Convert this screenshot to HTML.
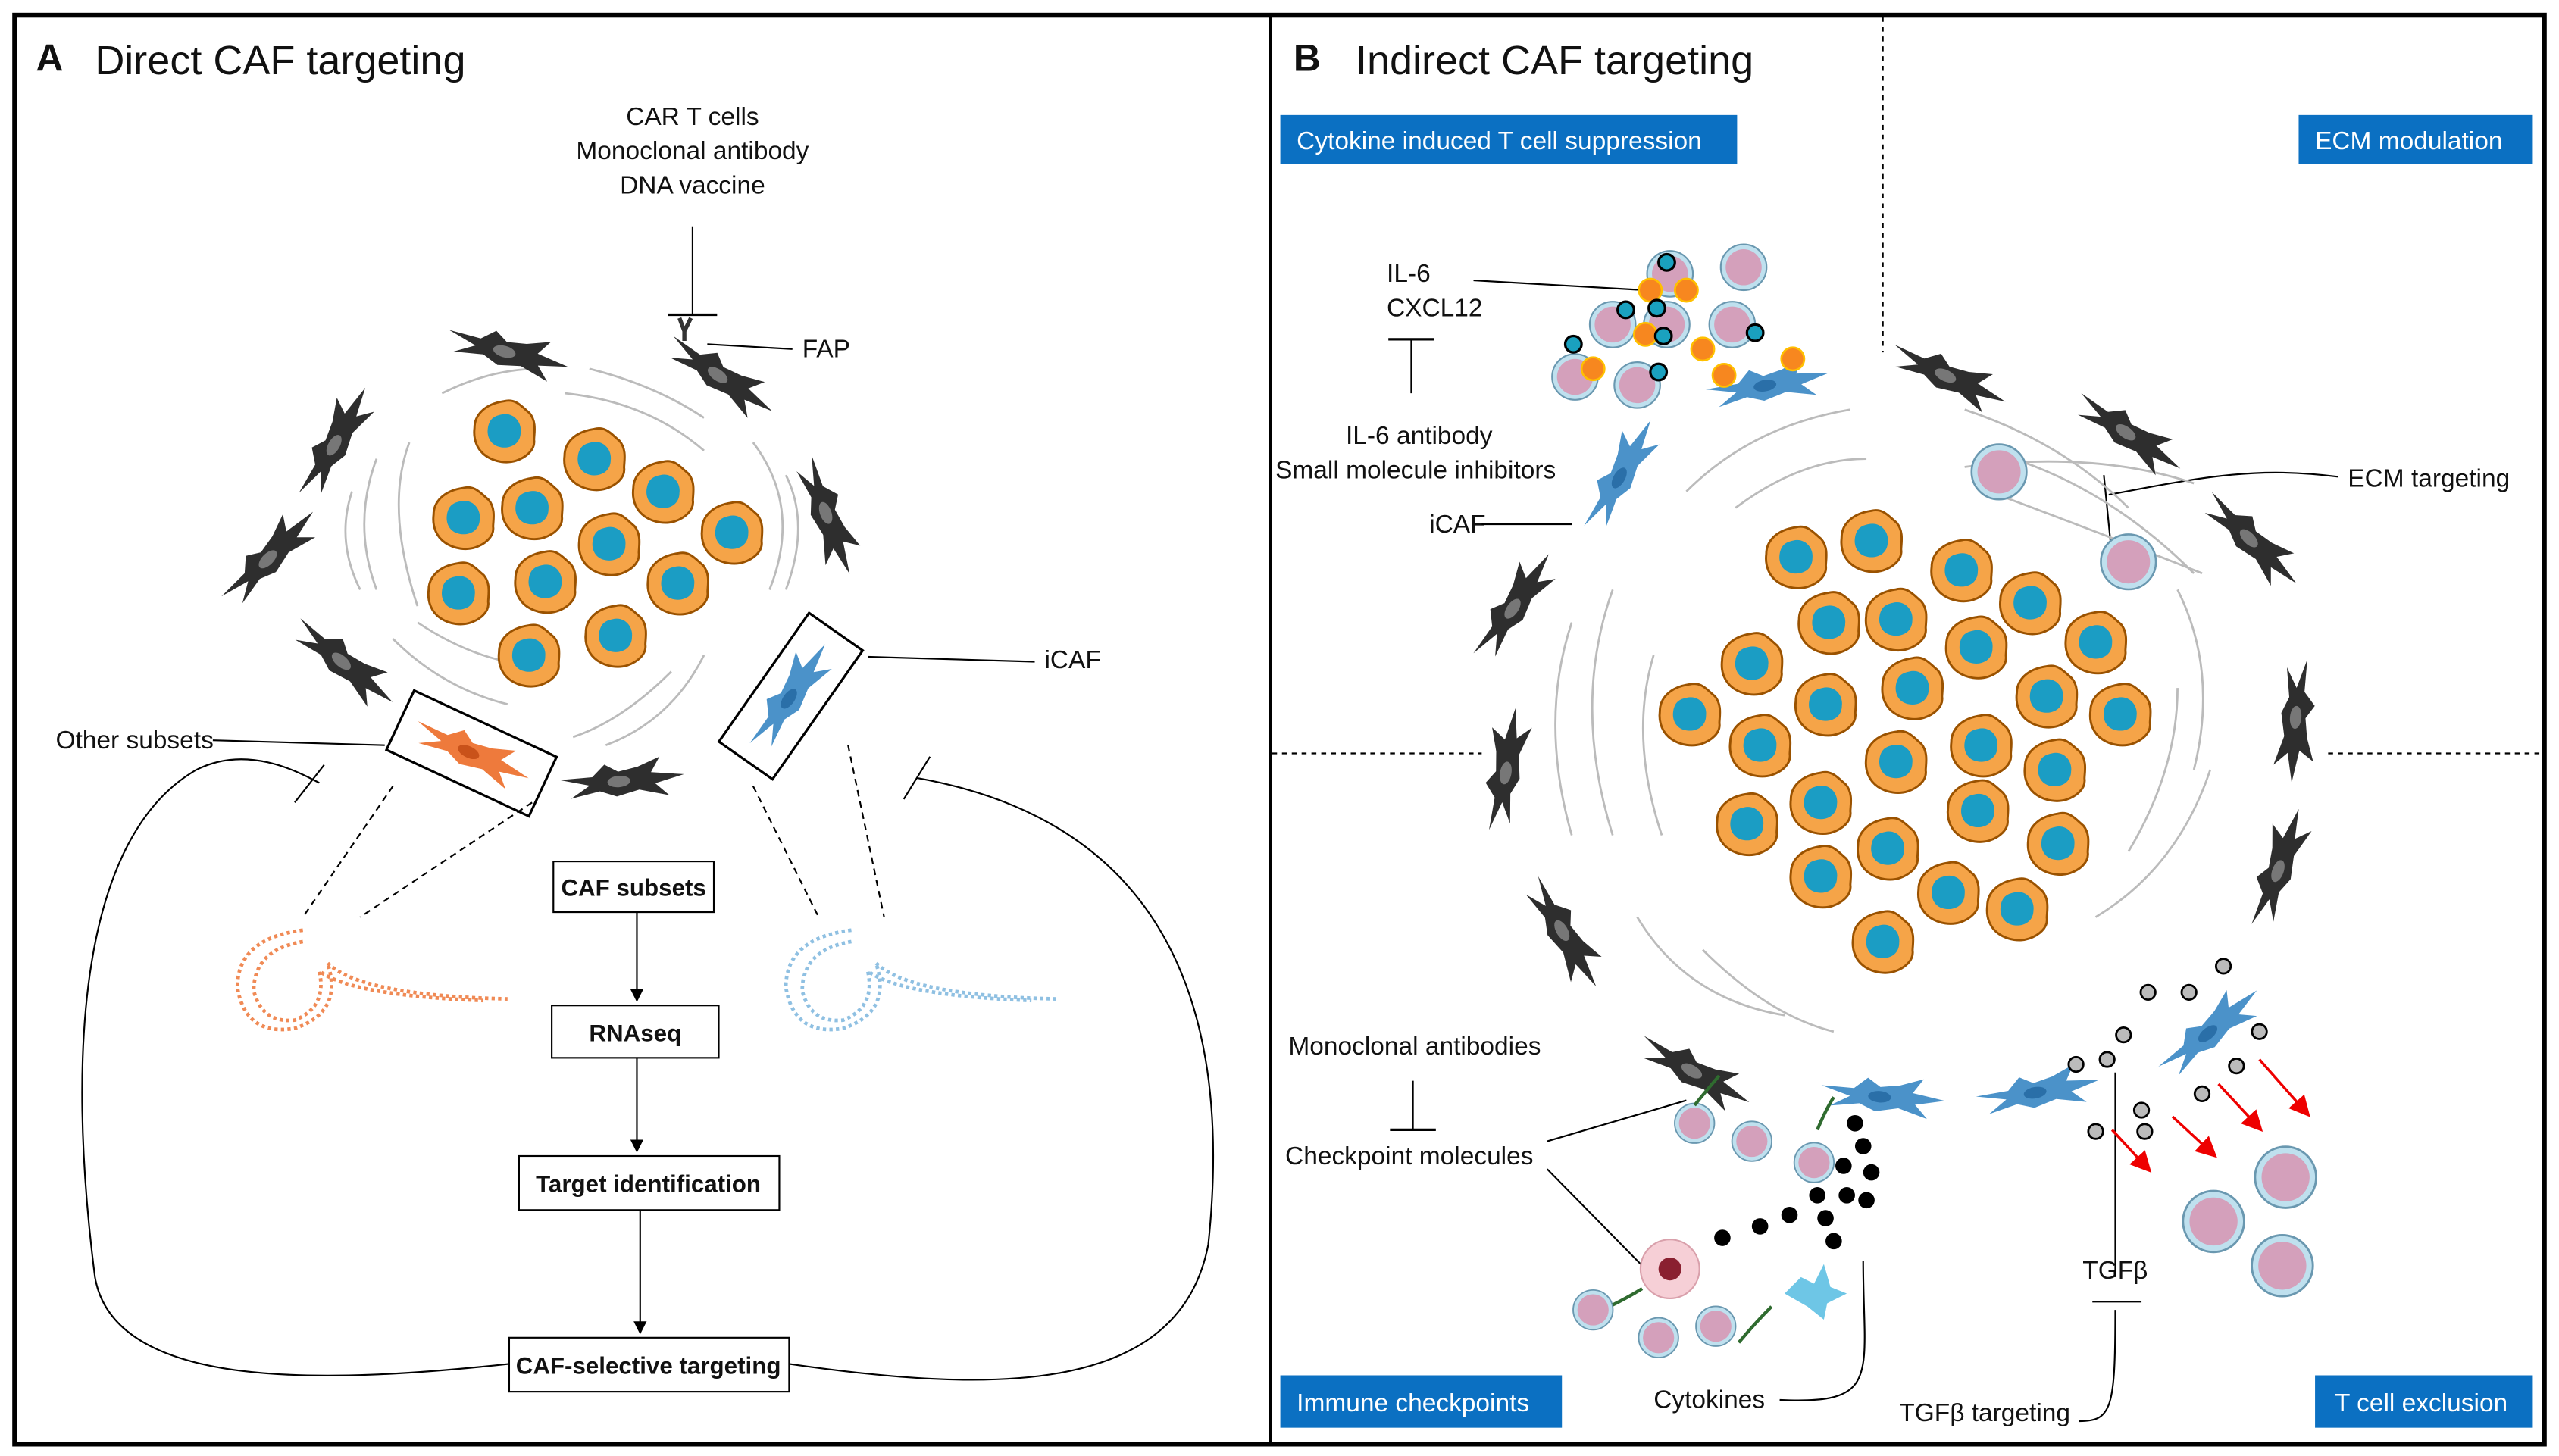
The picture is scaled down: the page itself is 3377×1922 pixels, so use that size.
<!DOCTYPE html>
<html><head><meta charset="utf-8"><style>
html,body{margin:0;padding:0;background:#fff;}
svg{display:block;}
text{font-family:"Liberation Sans",sans-serif;fill:#111;}
</style></head><body>
<svg width="3377" height="1922" viewBox="0 0 1563 889" xmlns="http://www.w3.org/2000/svg">
<defs>
<symbol id="cc" viewBox="-22 -22 44 44" overflow="visible">
<path d="M0,-20 C8,-22 12,-16 17,-12 C22,-6 20,2 20,6 C21,13 14,18 8,20 C2,22 -6,21 -12,17 C-18,13 -21,6 -20,-2 C-20,-10 -14,-18 0,-20Z" fill="#f5a448" stroke="#9a5200" stroke-width="1.5"/>
<path d="M-2,-11 C6,-13 12,-6 11,1 C11,8 5,12 -2,11 C-9,10 -12,4 -11,-2 C-10,-8 -7,-10 -2,-11Z" fill="#1b9dc4"/>
</symbol>
<symbol id="fib" viewBox="-40 -15 80 30" overflow="visible">
<path d="M-38,-4 L-18,-4 L-10,-11 L-2,-6 L10,-8 L24,-13 L18,-4 L38,-1 L20,3 L28,11 L10,6 L-4,9 L-14,5 L-32,8 L-20,1 Z" fill="#2e2e2e"/>
<ellipse cx="-2" cy="0" rx="7" ry="3.5" fill="#777"/>
</symbol>
<symbol id="bfib" viewBox="-40 -15 80 30" overflow="visible">
<path d="M-38,-4 L-18,-4 L-10,-11 L-2,-6 L10,-8 L24,-13 L18,-4 L38,-1 L20,3 L28,11 L10,6 L-4,9 L-14,5 L-32,8 L-20,1 Z" fill="#4b92c9"/>
<ellipse cx="-2" cy="0" rx="7" ry="3.5" fill="#2a6fa8"/>
</symbol>
<symbol id="ofib" viewBox="-40 -15 80 30" overflow="visible">
<path d="M-38,-4 L-18,-4 L-10,-11 L-2,-6 L10,-8 L24,-13 L18,-4 L38,-1 L20,3 L28,11 L10,6 L-4,9 L-14,5 L-32,8 L-20,1 Z" fill="#ee7a3c"/>
<ellipse cx="-2" cy="0" rx="7" ry="3.5" fill="#c9521a"/>
</symbol>
<symbol id="ly" viewBox="-15 -15 30 30" overflow="visible">
<circle r="14" fill="#bfe0ee" stroke="#6a98b0" stroke-width="1"/>
<circle r="11" fill="#d4a0bb"/>
</symbol>
<marker id="ar" markerWidth="8" markerHeight="8" refX="7" refY="4" orient="auto"><path d="M0,0 L8,4 L0,8Z" fill="#000"/></marker>
<marker id="rar" markerWidth="8" markerHeight="8" refX="7" refY="4" orient="auto"><path d="M0,0 L8,4 L0,8Z" fill="#e00"/></marker>
</defs>
<rect x="9" y="9" width="1545" height="873" fill="#fff" stroke="#000" stroke-width="3"/>
<line x1="776" y1="9" x2="776" y2="882" stroke="#000" stroke-width="1.5"/>
<g stroke="#000" stroke-dasharray="3,3" stroke-width="1">
<line x1="1150" y1="10" x2="1150" y2="215"/>
<line x1="777" y1="460" x2="905" y2="460"/>
<line x1="1422" y1="460" x2="1553" y2="460"/>
</g>
<!-- Titles -->
<text x="22" y="43" font-size="23" font-weight="bold">A</text>
<text x="58" y="45" font-size="25">Direct CAF targeting</text>
<text x="790" y="43" font-size="23" font-weight="bold">B</text>
<text x="828" y="45" font-size="25">Indirect CAF targeting</text>
<!-- Panel A -->
<g font-size="15.5" text-anchor="middle">
<text x="423" y="76">CAR T cells</text>
<text x="423" y="97">Monoclonal antibody</text>
<text x="423" y="118">DNA vaccine</text>
</g>
<line x1="423" y1="138" x2="423" y2="192" stroke="#000"/>
<line x1="408" y1="192" x2="438" y2="192" stroke="#000" stroke-width="1.5"/>
<line x1="432" y1="210" x2="484" y2="213" stroke="#000"/>
<text x="490" y="218" font-size="15.5">FAP</text>
<g stroke="#bbb" fill="none" stroke-width="1.3">
<path d="M230,280 q-15,40 0,80"/><path d="M250,270 q-15,40 5,100"/><path d="M215,300 q-10,30 5,60"/>
<path d="M360,225 q40,10 70,30"/><path d="M345,240 q50,5 85,35"/><path d="M460,270 q30,40 10,90"/><path d="M480,290 q15,30 0,70"/>
<path d="M430,400 q-20,40 -60,55"/><path d="M410,410 q-30,30 -60,40"/><path d="M240,390 q30,30 70,40"/><path d="M255,380 q30,20 60,25"/>
<path d="M270,240 q30,-15 60,-15"/>
</g>
<use href="#fib" x="270" y="200" width="80" height="30" transform="rotate(15 310 215)"/>
<use href="#fib" x="400" y="215" width="80" height="30" transform="rotate(35 440 230)"/>
<use href="#fib" x="165" y="255" width="80" height="30" transform="rotate(-60 205 270)"/>
<use href="#fib" x="125" y="325" width="80" height="30" transform="rotate(-45 165 340)"/>
<use href="#fib" x="465" y="300" width="80" height="30" transform="rotate(70 505 315)"/>
<use href="#fib" x="170" y="390" width="80" height="30" transform="rotate(40 210 405)"/>
<use href="#fib" x="340" y="462" width="80" height="30" transform="rotate(-5 380 477)"/>
<path d="M418,202 l-3,-8 M418,202 l4,-8 M418,202 v6" stroke="#333" stroke-width="2.5" fill="none"/>
<g>
<use href="#cc" x="288" y="243" width="40" height="40"/>
<use href="#cc" x="343" y="260" width="40" height="40"/>
<use href="#cc" x="263" y="296" width="40" height="40"/>
<use href="#cc" x="305" y="290" width="40" height="40"/>
<use href="#cc" x="385" y="280" width="40" height="40"/>
<use href="#cc" x="427" y="305" width="40" height="40"/>
<use href="#cc" x="260" y="342" width="40" height="40"/>
<use href="#cc" x="313" y="335" width="40" height="40"/>
<use href="#cc" x="352" y="312" width="40" height="40"/>
<use href="#cc" x="394" y="336" width="40" height="40"/>
<use href="#cc" x="303" y="380" width="40" height="40"/>
<use href="#cc" x="356" y="368" width="40" height="40"/>
</g>
<g transform="rotate(25 288 460)"><rect x="240" y="440" width="96" height="40" fill="#fff" stroke="#000" stroke-width="1.5"/><use href="#ofib" x="248" y="445" width="80" height="30"/></g>
<g transform="rotate(-55 483 425)"><rect x="435" y="405" width="96" height="40" fill="#fff" stroke="#000" stroke-width="1.5"/><use href="#bfib" x="443" y="410" width="80" height="30"/></g>
<line x1="130" y1="452" x2="235" y2="455" stroke="#000"/>
<text x="34" y="457" font-size="15.5">Other subsets</text>
<line x1="530" y1="401" x2="632" y2="404" stroke="#000"/>
<text x="638" y="408" font-size="15.5">iCAF</text>
<g stroke="#000" stroke-dasharray="4,3" fill="none">
<line x1="240" y1="480" x2="185" y2="560"/><line x1="325" y1="490" x2="220" y2="560"/>
<line x1="460" y1="480" x2="500" y2="560"/><line x1="518" y1="455" x2="540" y2="560"/>
</g>
<g fill="none" stroke-width="2.2">
<path d="M185,568 q-40,5 -40,35 q5,30 35,25 q30,-10 20,-40 q20,20 110,22" stroke="#f08a55" stroke-dasharray="2,2"/>
<path d="M185,575 q-30,5 -30,30 q5,20 25,18 q20,-8 15,-30 q20,15 100,18" stroke="#f08a55" stroke-dasharray="2,2"/>
<path d="M520,568 q-40,5 -40,35 q5,30 35,25 q30,-10 20,-40 q20,20 110,22" stroke="#8fc0e2" stroke-dasharray="2,2"/>
<path d="M520,575 q-30,5 -30,30 q5,20 25,18 q20,-8 15,-30 q20,15 100,18" stroke="#8fc0e2" stroke-dasharray="2,2"/>
</g>
<g font-size="14.5" font-weight="bold" text-anchor="middle">
<rect x="338" y="526" width="98" height="31" fill="#fff" stroke="#000"/><text x="387" y="547">CAF subsets</text>
<rect x="337" y="614" width="102" height="32" fill="#fff" stroke="#000"/><text x="388" y="636">RNAseq</text>
<rect x="317" y="706" width="159" height="33" fill="#fff" stroke="#000"/><text x="396" y="728">Target identification</text>
<rect x="311" y="817" width="171" height="33" fill="#fff" stroke="#000"/><text x="396" y="839">CAF-selective targeting</text>
</g>
<g stroke="#000" fill="none">
<line x1="389" y1="557" x2="389" y2="611" marker-end="url(#ar)"/>
<line x1="389" y1="646" x2="389" y2="703" marker-end="url(#ar)"/>
<line x1="391" y1="739" x2="391" y2="814" marker-end="url(#ar)"/>
<path d="M311,833 C200,845 70,850 58,780 C40,640 50,510 120,470 C150,455 180,470 195,478"/>
<line x1="180" y1="490" x2="198" y2="467"/>
<path d="M482,833 C600,850 720,855 738,760 C755,600 700,500 560,475"/>
<line x1="552" y1="488" x2="568" y2="462"/>
</g>
<!-- Panel B labels -->
<g font-size="15.5">
<rect x="782" y="70" width="279" height="30" fill="#0b70c2"/><text x="792" y="91" style="fill:#fff">Cytokine induced T cell suppression</text>
<rect x="1404" y="70" width="143" height="30" fill="#0b70c2"/><text x="1414" y="91" style="fill:#fff">ECM modulation</text>
<rect x="782" y="840" width="172" height="32" fill="#0b70c2"/><text x="792" y="862" style="fill:#fff">Immune checkpoints</text>
<rect x="1414" y="840" width="133" height="32" fill="#0b70c2"/><text x="1426" y="862" style="fill:#fff">T cell exclusion</text>
</g>
<g font-size="15.5">
<text x="847" y="172">IL-6</text><text x="847" y="193">CXCL12</text>
<text x="822" y="271">IL-6 antibody</text><text x="779" y="292">Small molecule inhibitors</text>
<text x="873" y="325">iCAF</text>
<text x="1434" y="297">ECM targeting</text>
<text x="787" y="644">Monoclonal antibodies</text>
<text x="785" y="711">Checkpoint molecules</text>
<text x="1010" y="860">Cytokines</text>
<text x="1272" y="781">TGFβ</text>
<text x="1160" y="868">TGFβ targeting</text>
</g>
<g stroke="#000" fill="none">
<line x1="862" y1="207" x2="862" y2="240"/><line x1="848" y1="207" x2="876" y2="207" stroke-width="1.5"/>
<line x1="900" y1="171" x2="1005" y2="177"/>
<line x1="905" y1="320" x2="960" y2="320"/>
<line x1="863" y1="660" x2="863" y2="690"/><line x1="849" y1="690" x2="877" y2="690" stroke-width="1.5"/>
<line x1="945" y1="697" x2="1030" y2="672"/>
<line x1="945" y1="714" x2="1005" y2="775"/>
<path d="M1087,855 C1150,858 1138,840 1138,770"/>
<path d="M1270,868 C1290,868 1292,860 1292,800 M1278,795 h30"/>
<line x1="1292" y1="780" x2="1292" y2="655"/>
<path d="M1288,302 C1350,290 1380,285 1428,291"/>
<line x1="1285" y1="290" x2="1289" y2="330"/>
</g>
<g stroke="#bbb" fill="none" stroke-width="1.3">
<path d="M960,380 q-20,60 0,130"/><path d="M985,360 q-25,70 0,150"/><path d="M1010,400 q-15,50 5,110"/><path d="M1000,560 q30,50 90,60"/>
<path d="M1040,580 q40,40 80,50"/><path d="M1280,560 q50,-30 70,-90"/><path d="M1300,520 q30,-50 30,-100"/><path d="M1340,470 q15,-60 -10,-110"/>
<path d="M1030,300 q40,-40 100,-50"/><path d="M1060,310 q40,-30 80,-30"/><path d="M1200,250 q60,20 100,60"/><path d="M1215,300 q80,30 130,50"/>
<path d="M1230,280 q60,20 110,70"/><path d="M1200,285 q80,-10 140,10"/>
</g>
<use href="#fib" x="1150" y="215" width="80" height="30" transform="rotate(25 1190 230)"/>
<use href="#fib" x="1260" y="250" width="80" height="30" transform="rotate(35 1300 265)"/>
<use href="#fib" x="1335" y="315" width="80" height="30" transform="rotate(45 1375 330)"/>
<use href="#fib" x="885" y="355" width="80" height="30" transform="rotate(-55 925 370)"/>
<use href="#fib" x="880" y="455" width="80" height="30" transform="rotate(-80 920 470)"/>
<use href="#fib" x="1362" y="425" width="80" height="30" transform="rotate(95 1402 440)"/>
<use href="#fib" x="915" y="555" width="80" height="30" transform="rotate(60 955 570)"/>
<use href="#fib" x="1352" y="515" width="80" height="30" transform="rotate(-70 1392 530)"/>
<use href="#fib" x="995" y="640" width="80" height="30" transform="rotate(30 1035 655)"/>
<use href="#bfib" x="1040" y="220" width="80" height="30" transform="rotate(-10 1080 235)"/>
<use href="#bfib" x="950" y="275" width="80" height="30" transform="rotate(-60 990 290)"/>
<use href="#bfib" x="1110" y="655" width="80" height="30" transform="rotate(5 1150 670)"/>
<use href="#bfib" x="1205" y="652" width="80" height="30" transform="rotate(-10 1245 667)"/>
<use href="#bfib" x="1310" y="615" width="80" height="30" transform="rotate(-40 1350 630)"/>
<g>
<use href="#cc" x="1077" y="320" width="40" height="40"/><use href="#cc" x="1123" y="310" width="40" height="40"/>
<use href="#cc" x="1178" y="328" width="40" height="40"/><use href="#cc" x="1220" y="348" width="40" height="40"/>
<use href="#cc" x="1050" y="385" width="40" height="40"/><use href="#cc" x="1097" y="360" width="40" height="40"/>
<use href="#cc" x="1138" y="358" width="40" height="40"/><use href="#cc" x="1187" y="375" width="40" height="40"/>
<use href="#cc" x="1230" y="405" width="40" height="40"/><use href="#cc" x="1260" y="372" width="40" height="40"/>
<use href="#cc" x="1012" y="416" width="40" height="40"/><use href="#cc" x="1055" y="435" width="40" height="40"/>
<use href="#cc" x="1095" y="410" width="40" height="40"/><use href="#cc" x="1148" y="400" width="40" height="40"/>
<use href="#cc" x="1190" y="435" width="40" height="40"/><use href="#cc" x="1235" y="450" width="40" height="40"/>
<use href="#cc" x="1275" y="416" width="40" height="40"/><use href="#cc" x="1047" y="483" width="40" height="40"/>
<use href="#cc" x="1092" y="470" width="40" height="40"/><use href="#cc" x="1138" y="445" width="40" height="40"/>
<use href="#cc" x="1188" y="475" width="40" height="40"/><use href="#cc" x="1237" y="495" width="40" height="40"/>
<use href="#cc" x="1092" y="515" width="40" height="40"/><use href="#cc" x="1133" y="498" width="40" height="40"/>
<use href="#cc" x="1170" y="525" width="40" height="40"/><use href="#cc" x="1212" y="535" width="40" height="40"/>
<use href="#cc" x="1130" y="555" width="40" height="40"/>
</g>
<g>
<use href="#ly" x="1005" y="152" width="30" height="30"/><use href="#ly" x="1050" y="148" width="30" height="30"/>
<use href="#ly" x="970" y="183" width="30" height="30"/><use href="#ly" x="1003" y="183" width="30" height="30"/>
<use href="#ly" x="1043" y="183" width="30" height="30"/><use href="#ly" x="947" y="215" width="30" height="30"/>
<use href="#ly" x="985" y="220" width="30" height="30"/>
<use href="#ly" x="1203" y="270" width="36" height="36"/><use href="#ly" x="1282" y="325" width="36" height="36"/>
<use href="#ly" x="1022" y="673" width="26" height="26"/><use href="#ly" x="1057" y="684" width="26" height="26"/>
<use href="#ly" x="1095" y="697" width="26" height="26"/><use href="#ly" x="960" y="787" width="26" height="26"/>
<use href="#ly" x="1000" y="804" width="26" height="26"/><use href="#ly" x="1035" y="797" width="26" height="26"/>
<use href="#ly" x="1376" y="699" width="40" height="40"/><use href="#ly" x="1332" y="726" width="40" height="40"/>
<use href="#ly" x="1374" y="753" width="40" height="40"/>
</g>
<g fill="#f7871f" stroke="#ffc000" stroke-width="1.2">
<circle cx="1008" cy="177" r="7"/><circle cx="1030" cy="177" r="7"/><circle cx="1005" cy="204" r="7"/>
<circle cx="1040" cy="213" r="7"/><circle cx="973" cy="225" r="7"/><circle cx="1053" cy="229" r="7"/><circle cx="1095" cy="219" r="7"/>
</g>
<g fill="#1aa1bf" stroke="#000" stroke-width="1.5">
<circle cx="1018" cy="160" r="5"/><circle cx="993" cy="189" r="5"/><circle cx="1012" cy="188" r="5"/>
<circle cx="1016" cy="205" r="5"/><circle cx="1072" cy="203" r="5"/><circle cx="961" cy="210" r="5"/><circle cx="1013" cy="227" r="5"/>
</g>
<g fill="#000">
<circle cx="1133" cy="686" r="5"/><circle cx="1138" cy="700" r="5"/><circle cx="1126" cy="712" r="5"/><circle cx="1143" cy="716" r="5"/>
<circle cx="1110" cy="730" r="5"/><circle cx="1128" cy="730" r="5"/><circle cx="1140" cy="733" r="5"/><circle cx="1093" cy="742" r="5"/>
<circle cx="1115" cy="744" r="5"/><circle cx="1075" cy="749" r="5"/><circle cx="1052" cy="756" r="5"/><circle cx="1120" cy="758" r="5"/>
</g>
<g fill="#bbb" stroke="#000" stroke-width="1.3">
<circle cx="1312" cy="606" r="4.5"/><circle cx="1337" cy="606" r="4.5"/><circle cx="1358" cy="590" r="4.5"/><circle cx="1380" cy="630" r="4.5"/>
<circle cx="1366" cy="651" r="4.5"/><circle cx="1345" cy="668" r="4.5"/><circle cx="1308" cy="678" r="4.5"/><circle cx="1268" cy="650" r="4.5"/>
<circle cx="1287" cy="647" r="4.5"/><circle cx="1280" cy="691" r="4.5"/><circle cx="1310" cy="691" r="4.5"/><circle cx="1297" cy="632" r="4.5"/>
</g>
<g stroke="#e00" stroke-width="1.6" marker-end="url(#rar)">
<line x1="1380" y1="647" x2="1410" y2="681"/><line x1="1355" y1="662" x2="1381" y2="690"/>
<line x1="1327" y1="682" x2="1353" y2="706"/><line x1="1290" y1="690" x2="1313" y2="715"/>
</g>
<g stroke="#2f6b2f" stroke-width="2" fill="none">
<path d="M1035,675 q8,-10 15,-18"/><path d="M1110,690 q5,-12 10,-20"/><path d="M985,797 q10,-5 18,-10"/><path d="M1062,820 q10,-12 20,-22"/>
</g>
<circle cx="1020" cy="775" r="18" fill="#f6cfd6" stroke="#d9a0ab"/>
<circle cx="1020" cy="775" r="7" fill="#8a2030"/>
<path d="M1090,790 l10,-10 l8,4 l6,-12 l4,14 l10,4 l-12,6 l-2,10 l-10,-8 z" fill="#6ec6e6"/>
</svg>
</body></html>
